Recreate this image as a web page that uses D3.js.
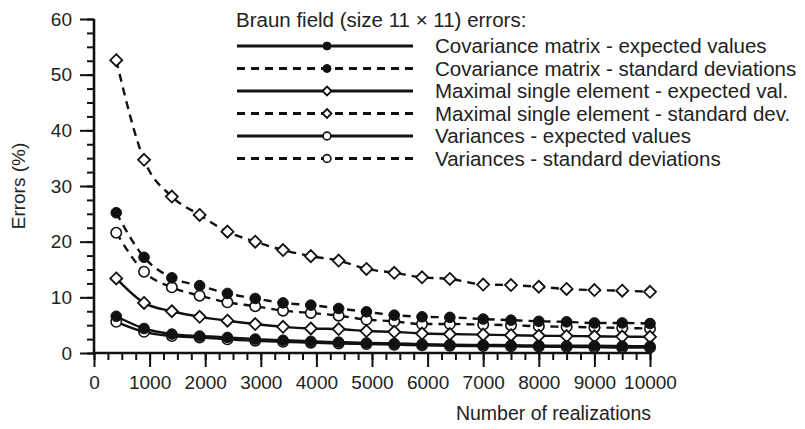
<!DOCTYPE html>
<html>
<head>
<meta charset="utf-8">
<script src="https://cdn.jsdelivr.net/npm/d3@7"></script>
<style>
  html, body { margin: 0; padding: 0; background: #fff; }
  svg { display: block; font-family: "Liberation Sans", Arial, sans-serif; }
</style>
</head>
<body>
<svg id="chart" width="805" height="429"></svg>
<script>
// ---- data ----
const realizations = [400, 900, 1400, 1900, 2400, 2900, 3400, 3900, 4400, 4900, 5400, 5900, 6400, 7000, 7500, 8000, 8500, 9000, 9500, 10000];
const covExpected = [6.6, 4.4, 3.4, 3.05, 2.8, 2.5, 2.3, 2.1, 1.95, 1.8, 1.7, 1.6, 1.5, 1.45, 1.4, 1.35, 1.3, 1.3, 1.25, 1.2];
const covStd = [25.2, 17.2, 13.5, 12.1, 10.7, 9.8, 9.0, 8.6, 8.0, 7.4, 6.8, 6.5, 6.4, 6.1, 5.9, 5.7, 5.6, 5.4, 5.4, 5.3];
const maxExpected = [13.4, 9.0, 7.5, 6.5, 5.8, 5.2, 4.7, 4.4, 4.3, 3.95, 3.8, 3.5, 3.4, 3.3, 3.2, 3.1, 3.05, 3.0, 2.95, 2.9];
const maxStd = [52.6, 34.7, 28.1, 24.8, 21.8, 20.0, 18.5, 17.4, 16.6, 15.1, 14.4, 13.6, 13.3, 12.3, 12.2, 11.9, 11.5, 11.3, 11.2, 11.0];
const varExpected = [5.6, 3.8, 3.05, 2.8, 2.45, 2.2, 2.0, 1.85, 1.7, 1.6, 1.5, 1.4, 1.3, 1.25, 1.2, 1.15, 1.1, 1.05, 1.0, 1.0];
const varStd = [21.6, 14.6, 11.8, 10.3, 9.1, 8.4, 7.6, 7.2, 6.7, 6.0, 5.7, 5.2, 5.2, 5.1, 5.0, 4.8, 4.7, 4.6, 4.5, 4.4];
const xTicks = [0, 1000, 2000, 3000, 4000, 5000, 6000, 7000, 8000, 9000, 10000];
const yTicks = [0, 10, 20, 30, 40, 50, 60];
const legendTitle = "Braun field (size 11 \u00D7 11) errors:";
const seriesNames = [
  "Covariance matrix - expected values",
  "Covariance matrix - standard deviations",
  "Maximal single element - expected val.",
  "Maximal single element - standard dev.",
  "Variances - expected values",
  "Variances - standard deviations"
];
const xLabel = "Number of realizations";
const yLabel = "Errors (%)";

// ---- series table ----
const series = [
  { name: seriesNames[0], values: covExpected, dashed: false, marker: "filled" },
  { name: seriesNames[1], values: covStd, dashed: true, marker: "filled" },
  { name: seriesNames[2], values: maxExpected, dashed: false, marker: "diamond" },
  { name: seriesNames[3], values: maxStd, dashed: true, marker: "diamond" },
  { name: seriesNames[4], values: varExpected, dashed: false, marker: "open" },
  { name: seriesNames[5], values: varStd, dashed: true, marker: "open" }
];
const drawOrder = [5, 4, 3, 2, 1, 0];

const svg = d3.select("#chart");
const x = d3.scaleLinear().domain([0, 10000]).range([94, 650]);
const y = d3.scaleLinear().domain([0, 60]).range([353, 19]);

const FS = 19;
const LFS = 20.5;

// axes
const xAxisMinor = d3.axisBottom(x).tickValues(d3.range(0, 10001, 250)).tickSize(7).tickFormat("");
const xAxisMajor = d3.axisBottom(x).tickValues(xTicks).tickSize(14).tickPadding(9).tickFormat(d3.format("d"));
const yAxisMinor = d3.axisLeft(y).tickValues(d3.range(0, 60.01, 2.5)).tickSize(7).tickFormat("");
const yAxisMajor = d3.axisLeft(y).tickValues(yTicks).tickSize(14).tickPadding(8).tickFormat(d3.format("d"));

function styleAxis(g) {
  g.select(".domain").remove();
  g.selectAll(".tick line").attr("stroke", "#111").attr("stroke-width", 2);
  g.selectAll(".tick text").attr("fill", "#222").style("font-size", FS + "px")
    .style("font-family", "'Liberation Sans', Arial, sans-serif");
}
const gx = svg.append("g").attr("transform", `translate(0,${y(0)})`);
gx.append("g").call(xAxisMinor).call(styleAxis);
gx.append("g").call(xAxisMajor).call(styleAxis);
const gy = svg.append("g").attr("transform", `translate(${x(0)},0)`);
gy.append("g").call(yAxisMinor).call(styleAxis);
gy.append("g").call(yAxisMajor).call(styleAxis);

// axis lines
svg.append("line").attr("x1", x(0)).attr("x2", x(10000)).attr("y1", y(0)).attr("y2", y(0))
  .attr("stroke", "#111").attr("stroke-width", 2.6);
svg.append("line").attr("x1", x(0)).attr("x2", x(0)).attr("y1", y(0) + 1.3).attr("y2", y(60))
  .attr("stroke", "#111").attr("stroke-width", 2.6);

// axis labels
svg.append("text").attr("x", 651).attr("y", 420).attr("text-anchor", "end")
  .attr("fill", "#222").style("font-size", "19.5px").text(xLabel);
svg.append("text").attr("transform", `translate(25,${y(30)}) rotate(-90)`).attr("text-anchor", "middle")
  .attr("fill", "#222").style("font-size", FS + "px").text(yLabel);

// markers
function drawMarker(g, type, cx, cy, scale) {
  const s = scale || 1;
  if (type === "filled") {
    g.append("circle").attr("cx", cx).attr("cy", cy).attr("r", 5.3 * s).attr("fill", "#111").attr("stroke", "#111").attr("stroke-width", 1);
  } else if (type === "open") {
    g.append("circle").attr("cx", cx).attr("cy", cy).attr("r", 5.2 * s).attr("fill", "#fff").attr("stroke", "#111").attr("stroke-width", 1.6);
  } else {
    const r = 6 * s;
    g.append("path").attr("d", `M${cx},${cy - r}L${cx + r},${cy}L${cx},${cy + r}L${cx - r},${cy}Z`)
      .attr("fill", "#fff").attr("stroke", "#111").attr("stroke-width", 1.8);
  }
}

const line = d3.line().x(d => x(d[0])).y(d => y(d[1])).curve(d3.curveMonotoneX);
drawOrder.forEach(i => {
  const s = series[i];
  const pts = realizations.map((r, k) => [r, s.values[k]]);
  const g = svg.append("g");
  g.append("path").attr("d", line(pts)).attr("fill", "none").attr("stroke", "#111")
    .attr("stroke-width", 2.4).attr("stroke-dasharray", s.dashed ? "8,6" : null);
  pts.forEach(p => drawMarker(g, s.marker, x(p[0]), y(p[1]), 1));
});

// legend
const lg = svg.append("g");
lg.append("text").attr("x", 236).attr("y", 27).attr("fill", "#222").style("font-size", LFS + "px").text(legendTitle);
series.forEach((s, i) => {
  const ly = 46 + i * 22.5;
  lg.append("line").attr("x1", 237).attr("x2", 413).attr("y1", ly).attr("y2", ly)
    .attr("stroke", "#111").attr("stroke-width", 2.8).attr("stroke-dasharray", s.dashed ? "8,6" : null);
  drawMarker(lg, s.marker, 327, ly, 0.75);
  lg.append("text").attr("x", 435).attr("y", ly + 7).attr("fill", "#222").style("font-size", LFS + "px").text(s.name);
});
</script>
</body>
</html>
